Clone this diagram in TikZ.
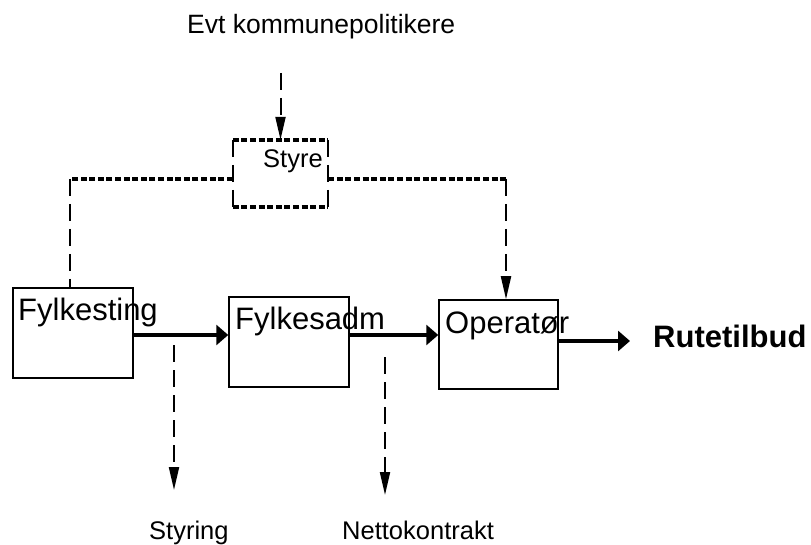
\documentclass[tikz,border=0pt]{standalone}
\usepackage{fontspec}
\setmainfont{Liberation Sans}
\usetikzlibrary{arrows.meta}
\begin{document}
\begin{tikzpicture}[x=1pt,y=-1pt,
  box/.style={draw, line width=1.5pt, minimum width=120pt, minimum height=90pt, inner sep=0pt},
  big/.style={font=\fontsize{31}{36}\selectfont, inner sep=0pt, anchor=base west},
  small/.style={font=\fontsize{25.5}{30}\selectfont, inner sep=0pt, anchor=base west},
  flow/.style={line width=3.8pt, -{Triangle[length=12pt,width=20pt]}},
  thindash/.style={line width=2pt, dash pattern=on 17pt off 8pt},
  dotline/.style={line width=4pt, dash pattern=on 6pt off 2.6pt},
  cue/.style={thindash, -{Triangle[length=23pt,width=10pt]}},
]
\useasboundingbox (0,0) rectangle (811,545);

% the three actors
\node[box] (fylkesting) at (73,333) {};
\node[box] (fylkesadm) at (289,342) {};
\node[box, minimum width=119pt, minimum height=89pt] (operator) at (498.5,344.5) {};
\node[big] (fylkestingtext) at (18,320) {Fylkesting};
\node[big] (fylkesadmtext) at (235,330) {Fylkesadm};
\node[big] (operatortext) at (445,333) {Operatør};
\node[big, font=\fontsize{31}{36}\selectfont\bfseries] (rute) at (653,347) {Rutetilbud};

% board: dotted top and bottom, dashed sides
\node[minimum width=95pt, minimum height=67pt, inner sep=0pt] (styre) at (280.5,173.5) {};
\node[small] (styretext) at (263,168) {Styre};
\draw[dotline] (styre.north west) -- (styre.north east);
\draw[dotline] (styre.south west) -- (styre.south east);
\draw[thindash] (styre.north west) -- (styre.south west);
\draw[thindash] (styre.north east) -- (styre.south east);

% labels
\node[small, font=\fontsize{26.5}{30}\selectfont] (evt) at (187,34) {Evt kommunepolitikere};
\node[small] (styring) at (149,539) {Styring};
\node[small] (netto) at (342,539) {Nettokontrakt};

% free ends and corners
\coordinate (evtend) at (280.5,73);
\coordinate (lc) at (70,179);
\coordinate (rc) at (506,179);
\coordinate (ruteIn) at ([xshift=-23pt]rute.west);
\coordinate (styringStart) at (174,345);
\coordinate (styringTip) at (174,490);
\coordinate (nettoStart) at (385,357);
\coordinate (nettoTip) at (385,495);

% board connections
\draw[cue] (evtend) -- (styre.north);
\draw[dotline] (lc -| styre.west) -- (lc);
\draw[thindash] (lc) -- (lc |- fylkesting.north);
\draw[dotline] (rc -| styre.east) -- (rc);
\draw[cue] (rc) -- (rc |- operator.north);

% main flow
\draw[flow] ([yshift=-2pt]fylkesting.east) -- ([yshift=-2pt]fylkesting.east -| fylkesadm.west);
\draw[flow] ([yshift=7pt]fylkesadm.east) -- ([yshift=7pt]fylkesadm.east -| operator.west);
\draw[flow] ([yshift=3.5pt]operator.east) -- ([yshift=3.5pt]operator.east -| ruteIn);

% outputs
\draw[cue] (styringStart) -- (styringTip);
\draw[cue] (nettoStart) -- (nettoTip);
\end{tikzpicture}
\end{document}
